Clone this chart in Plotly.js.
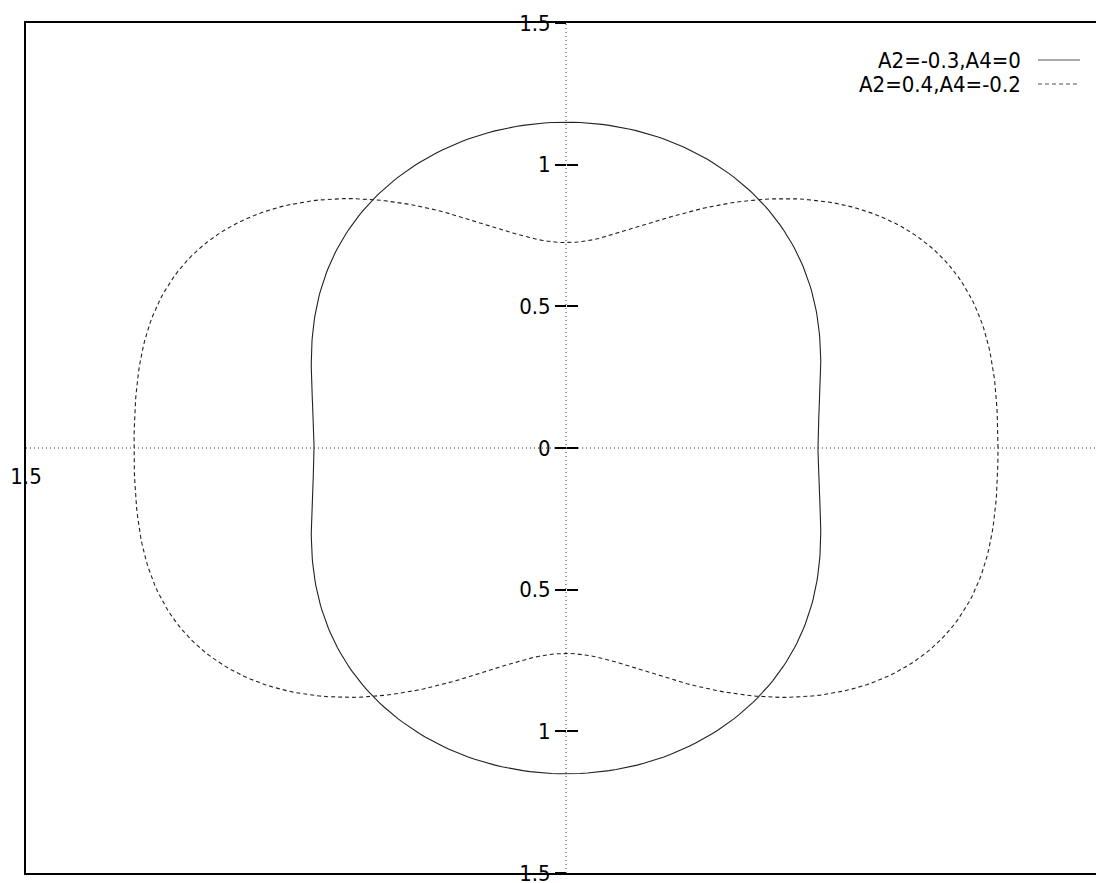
<!DOCTYPE html>
<html>
<head>
<meta charset="utf-8">
<script src="https://cdn.plot.ly/plotly-3.0.1.min.js"></script>
<style>
  html, body { margin: 0; padding: 0; background: #fff; }
  #chart { width: 1096px; height: 883px; }
</style>
</head>
<body>
<div id="chart"></div>
<script>
// Angular distributions W(theta) = 1 + A2*P2(cos theta) + A4*P4(cos theta)
const seriesNames = ['A2=-0.3,A4=0', 'A2=0.4,A4=-0.2'];
const coefA2 = [-0.3, 0.4];
const coefA4 = [0, -0.2];
const lineDash = ['solid', '4px,3px'];

// radial tick positions and their labels (radius shown as magnitude)
const rTickVals = [-1.5, -1, -0.5, 0, 0.5, 1, 1.5];
const rTickText = ['1.5', '1', '0.5', '0', '0.5', '1', '1.5'];
const xTickVals = [-1.5];
const xTickText = ['1.5'];

function P2(c) { return 0.5 * (3 * c * c - 1); }
function P4(c) { return (35 * c ** 4 - 30 * c * c + 3) / 8; }

const FONT = '"DejaVu Sans Condensed", "DejaVu Sans", Verdana, sans-serif';
const FSIZE = 22;

const traces = seriesNames.map((name, i) => {
  const xs = [], ys = [];
  for (let d = 0; d <= 360; d += 1) {
    const t = d * Math.PI / 180;
    const c = Math.cos(t);
    const r = 1 + coefA2[i] * P2(c) + coefA4[i] * P4(c);
    xs.push(r * Math.cos(t));
    ys.push(r * Math.sin(t));
  }
  return {
    type: 'scatter', mode: 'lines', name: name, x: xs, y: ys,
    line: { color: '#222', width: 1.1, dash: lineDash[i] },
    showlegend: false, hoverinfo: 'skip'
  };
});

// plot area: left edge at 26px, 360px per unit horizontally
const L = 26, T = 23, B = 10, W = 1096 - L;
const xRange = [-1.5, -1.5 + W / 360];
const yRange = [-1.5, 1.5];
const xFrac0 = (0 - xRange[0]) / (xRange[1] - xRange[0]);

const axisCommon = {
  overlaying: 'y', anchor: 'free', position: xFrac0, range: yRange,
  tickmode: 'array', tickvals: rTickVals, ticktext: rTickText,
  tickwidth: 2, tickcolor: '#000', ticklen: 11,
  ticklabeloverflow: 'allow',
  showgrid: false, zeroline: false, showline: false, fixedrange: true,
  tickfont: { family: FONT, size: FSIZE, color: '#000' }
};

// key drawn gnuplot-style: right-aligned text followed by a sample line
const legendX = (1022 - L) / W;
const sampleX0 = (1038 - L) / W, sampleX1 = (1080 - L) / W;
const plotH = 883 - T - B;
const legendY = [60, 84].map(py => (883 - B - py) / plotH);

const annotations = seriesNames.map((n, i) => ({
  xref: 'paper', yref: 'paper', x: legendX, y: legendY[i],
  xanchor: 'right', yanchor: 'middle', text: n, showarrow: false,
  height: 23, borderpad: 0,
  font: { family: FONT, size: FSIZE, color: '#000' }
}));

const shapes = [
  // dotted zero axes
  { type: 'line', xref: 'x', yref: 'paper', x0: 0, x1: 0, y0: 0, y1: 1,
    line: { color: '#333', width: 1, dash: '1px,3px' }, layer: 'below' },
  { type: 'line', xref: 'paper', yref: 'y', x0: 0, x1: 1, y0: 0, y1: 0,
    line: { color: '#333', width: 1, dash: '1px,3px' }, layer: 'below' }
].concat(seriesNames.map((n, i) => ({
  type: 'line', xref: 'paper', yref: 'paper', x0: sampleX0, x1: sampleX1,
  y0: legendY[i], y1: legendY[i],
  line: { color: '#555', width: 1.1, dash: lineDash[i] }
})));

const layout = {
  width: 1096, height: 883,
  margin: { l: L, r: 0, t: T, b: B, pad: 0 },
  paper_bgcolor: '#fff', plot_bgcolor: '#fff',
  showlegend: false,
  xaxis: {
    range: xRange, showticklabels: false, ticks: '', showgrid: false,
    zeroline: false, showline: true, mirror: true, linecolor: '#000',
    linewidth: 2, fixedrange: true
  },
  yaxis: {
    range: yRange, showticklabels: false, ticks: '', showgrid: false,
    zeroline: false, showline: true, mirror: false, linecolor: '#000',
    linewidth: 2, fixedrange: true
  },
  yaxis2: Object.assign({}, axisCommon, { side: 'left', ticks: 'outside' }),
  yaxis3: Object.assign({}, axisCommon, { side: 'left', ticks: 'inside', showticklabels: false }),
  xaxis2: {
    overlaying: 'x', anchor: 'free', position: 0.5, range: xRange,
    tickmode: 'array', tickvals: xTickVals, ticktext: xTickText,
    ticks: 'outside', ticklen: 9, tickcolor: 'rgba(0,0,0,0)',
    ticklabeloverflow: 'allow',
    showgrid: false, zeroline: false, showline: false, fixedrange: true,
    tickfont: { family: FONT, size: FSIZE, color: '#000' }
  },
  annotations: annotations,
  shapes: shapes
};

// invisible carriers so the overlay axes are drawn
const carriers = [
  { type: 'scatter', x: [null], y: [null], yaxis: 'y2', showlegend: false, hoverinfo: 'skip' },
  { type: 'scatter', x: [null], y: [null], yaxis: 'y3', showlegend: false, hoverinfo: 'skip' },
  { type: 'scatter', x: [null], y: [null], xaxis: 'x2', showlegend: false, hoverinfo: 'skip' }
];

Plotly.newPlot('chart', traces.concat(carriers), layout, { staticPlot: true, displayModeBar: false });
</script>
</body>
</html>
